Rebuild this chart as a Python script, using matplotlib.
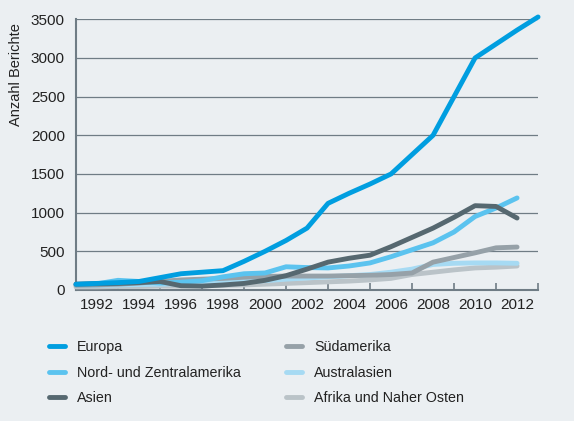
import numpy as np
import matplotlib.pyplot as plt

plt.rcParams['font.family'] = ['Liberation Sans', 'DejaVu Sans']

# data
years = np.arange(1991, 2013)
years_eu = np.arange(1991, 2014)

europa = [75, 85, 95, 110, 160, 210, 230, 250, 370, 500, 640, 800, 1120, 1250,
          1370, 1500, 1750, 2000, 2500, 3000, 3180, 3360, 3530]
nord = [70, 80, 125, 110, 90, 100, 120, 170, 210, 220, 300, 290, 285, 310,
        350, 430, 520, 610, 750, 950, 1060, 1190]
asien = [75, 80, 85, 95, 110, 55, 50, 65, 85, 125, 185, 270, 360, 410,
         450, 560, 680, 800, 940, 1090, 1080, 930]
suedamerika = [60, 65, 75, 90, 110, 130, 140, 150, 165, 175, 180, 180, 180, 185,
               190, 200, 220, 360, 420, 480, 545, 555]
australasien = [60, 60, 65, 70, 75, 80, 90, 100, 110, 120, 140, 155, 170, 185,
                200, 230, 270, 330, 345, 350, 350, 345]
afrika = [40, 40, 45, 45, 50, 50, 55, 60, 65, 75, 85, 95, 105, 115,
          130, 150, 200, 230, 260, 285, 295, 310]

bg = '#ebeff2'
grid_col = '#6f7c85'
txt = '#222222'

fig = plt.figure(figsize=(5.74, 4.21), dpi=100, facecolor=bg)
ax = fig.add_axes([0.1324, 0.3112, 0.805, 0.643], facecolor=bg)

lw = 3.5
kw = dict(lw=lw, solid_capstyle='round', solid_joinstyle='round', clip_on=False)
# back to front
l_af, = ax.plot(years, afrika, color='#bac3c8', label='Afrika und Naher Osten', zorder=3, **kw)
l_au, = ax.plot(years, australasien, color='#a6daf3', label='Australasien', zorder=4, **kw)
l_su, = ax.plot(years, suedamerika, color='#96a1a8', label='Südamerika', zorder=5, **kw)
l_no, = ax.plot(years, nord, color='#5bc3ef', label='Nord- und Zentralamerika', zorder=6, **kw)
l_as, = ax.plot(years, asien, color='#566870', label='Asien', zorder=7, **kw)
l_eu, = ax.plot(years_eu, europa, color='#009ee0', label='Europa', zorder=8, **kw)

ax.set_xlim(1991, 2013)
ax.set_ylim(0, 3500)
ax.set_yticks(np.arange(0, 3501, 500))
ax.yaxis.grid(True, color=grid_col, lw=0.9)
ax.set_axisbelow(True)

# ticks at odd years, labels at even years
ax.set_xticks(np.arange(1993, 2014, 2))
ax.set_xticklabels([])
ax.set_xticks(np.arange(1992, 2013, 2), minor=True)
ax.set_xticklabels([str(y) for y in range(1992, 2013, 2)], minor=True)
ax.tick_params(axis='x', which='major', direction='in', length=5, width=1.2, color=grid_col)
ax.tick_params(axis='x', which='minor', length=0, pad=6, labelsize=11, labelcolor=txt)
ax.tick_params(axis='y', length=0, pad=8, labelsize=11, labelcolor=txt)

for s in ['top', 'right']:
    ax.spines[s].set_visible(False)
for s in ['left', 'bottom']:
    ax.spines[s].set_color(grid_col)
    ax.spines[s].set_linewidth(1.5)

ax.set_ylabel('Anzahl Berichte', fontsize=10.5, color=txt, labelpad=6)
ax.yaxis.set_label_coords(-0.115, 0.985)
ax.yaxis.label.set_va('bottom')
ax.yaxis.label.set_ha('right')

handles = [l_eu, l_no, l_as, l_su, l_au, l_af]
leg = fig.legend(handles=handles, labels=[h.get_label() for h in handles],
                 ncol=2, loc='upper left', bbox_to_anchor=(0.075, 0.205),
                 frameon=False, fontsize=10.3, handlelength=1.1, handletextpad=0.85,
                 labelspacing=0.8, columnspacing=3.2, borderaxespad=0)
for t in leg.get_texts():
    t.set_color(txt)

fig.savefig('out.png', dpi=100, facecolor=bg)
